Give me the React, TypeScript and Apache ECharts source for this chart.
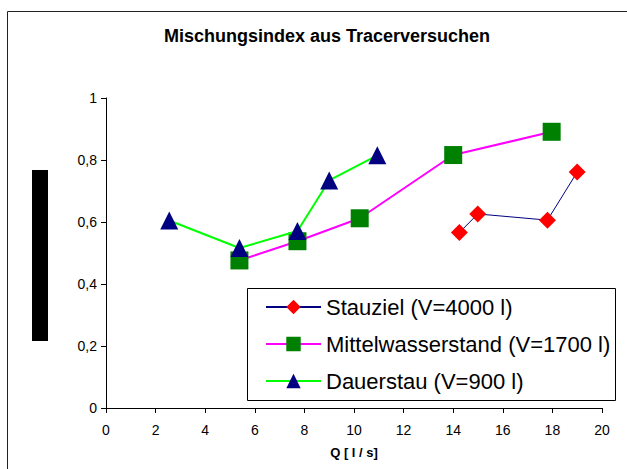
import React, { useEffect, useRef } from "react";
import * as echarts from "echarts";

const titleText = "Mischungsindex aus Tracerversuchen";
const xAxisName = "Q [ l / s]";
const seriesNames = ["Stauziel (V=4000 l)", "Mittelwasserstand (V=1700 l)", "Dauerstau (V=900 l)"];

const stauzielX = [14.25, 14.99, 17.8, 19.0];
const stauzielY = [0.566, 0.626, 0.606, 0.761];

const mittelX = [5.38, 7.72, 10.23, 14.0, 17.97];
const mittelY = [0.476, 0.538, 0.612, 0.816, 0.891];

const dauerX = [2.55, 5.38, 7.72, 9.0, 10.94];
const dauerY = [0.605, 0.516, 0.571, 0.734, 0.815];

const zip = (xs: number[], ys: number[]) => xs.map((x, i) => [x, ys[i]]);

export default function App() {
  const ref = useRef<HTMLDivElement>(null);
  useEffect(() => {
    document.body.style.margin = "0";
    const chart = echarts.init(ref.current!, null, { renderer: "svg" });
    const font = "Liberation Sans, Arial, sans-serif";
    chart.setOption({
      animation: false,
      backgroundColor: "#ffffff",
      textStyle: { fontFamily: font },
      title: {
        text: titleText,
        left: 322,
        top: 22,
        textAlign: "center",
        textStyle: { fontSize: 18, fontWeight: "bold", color: "#000", fontFamily: font },
      },
      grid: { left: 106, right: 25, top: 98, bottom: 61 },
      xAxis: {
        type: "value",
        min: 0,
        max: 20,
        interval: 2,
        name: xAxisName,
        nameLocation: "middle",
        nameGap: 38,
        nameTextStyle: { fontSize: 13, fontWeight: "bold", color: "#000", fontFamily: font },
        axisLine: { show: true, lineStyle: { color: "#000", width: 1 } },
        axisTick: { show: true, inside: false, length: 5, lineStyle: { color: "#000" } },
        axisLabel: { fontSize: 14, color: "#000", margin: 15, fontFamily: font },
        splitLine: { show: false },
      },
      yAxis: {
        type: "value",
        min: 0,
        max: 1,
        interval: 0.2,
        axisLine: { show: true, lineStyle: { color: "#000", width: 1 } },
        axisTick: { show: true, inside: false, length: 5, lineStyle: { color: "#000" } },
        axisLabel: {
          fontSize: 14,
          color: "#000",
          margin: 9,
          fontFamily: font,
          formatter: (v: number) => String(Math.round(v * 10) / 10).replace(".", ","),
        },
        splitLine: { show: false },
      },
      legend: {
        orient: "vertical",
        left: 265,
        top: 296,
        padding: 0,
        z: 20,
        itemWidth: 55,
        itemHeight: 18,
        itemGap: 15,
        textStyle: { fontSize: 22, lineHeight: 20, color: "#000", fontFamily: font },
        data: seriesNames,
      },
      graphic: [
        {
          type: "rect",
          shape: { x: 7.5, y: 11.5, width: 700, height: 500 },
          style: { fill: "none", stroke: "#222", lineWidth: 1 },
          z: -10,
        },
        {
          type: "rect",
          shape: { x: 32, y: 170, width: 16, height: 171 },
          style: { fill: "#000" },
        },
        {
          type: "rect",
          shape: { x: 247.5, y: 288.5, width: 368, height: 112 },
          style: { fill: "#fff", stroke: "#000", lineWidth: 1 },
          z: 9,
        },
      ],
      series: [
        {
          name: seriesNames[0],
          type: "line",
          data: zip(stauzielX, stauzielY),
          symbol: "diamond",
          symbolSize: 17,
          lineStyle: { color: "#000080", width: 1 },
          itemStyle: { color: "#FF0000" },
          z: 2,
        },
        {
          name: seriesNames[1],
          type: "line",
          data: zip(mittelX, mittelY),
          symbol: "rect",
          symbolSize: 18,
          lineStyle: { color: "#FF00FF", width: 2 },
          itemStyle: { color: "#008000" },
          z: 3,
        },
        {
          name: seriesNames[2],
          type: "line",
          data: zip(dauerX, dauerY),
          symbol: "triangle",
          symbolSize: 18,
          lineStyle: { color: "#00FF00", width: 2 },
          itemStyle: { color: "#000080" },
          z: 4,
        },
      ],
    });
    return () => chart.dispose();
  }, []);
  return <div ref={ref} style={{ width: 627, height: 469 }} />;
}
